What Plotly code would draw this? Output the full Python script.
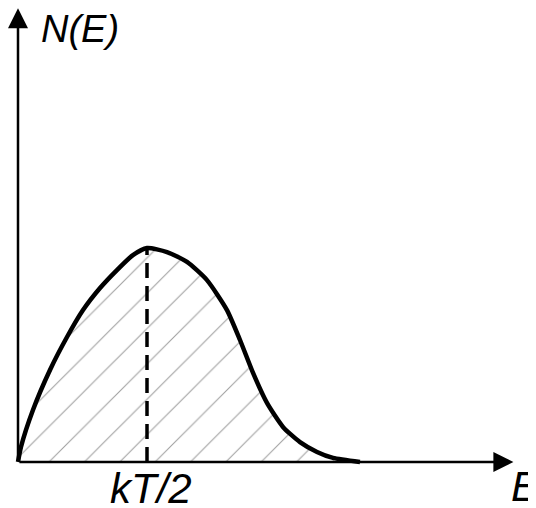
import plotly.graph_objects as go

# Energy distribution N(E) (in units: x = E / (kT/2), y = N / N_max)
energy = [0.0, 0.023, 0.116, 0.248, 0.380, 0.504, 0.636, 0.767, 0.891, 1.0,
          1.155, 1.310, 1.465, 1.620, 1.721, 1.822, 1.930, 2.054, 2.186,
          2.318, 2.442, 2.651]
density = [0.0, 0.07, 0.243, 0.430, 0.584, 0.710, 0.813, 0.897, 0.967, 1.0,
           0.981, 0.935, 0.850, 0.710, 0.570, 0.416, 0.276, 0.164, 0.093,
           0.047, 0.019, 0.0]

peak_x = 1.0
peak_y = 1.0
tick_vals = [1.0]
tick_text = ["kT/2"]
x_label = "E"
y_label = "N(E)"

x_axis_end = 3.84
y_axis_end = 2.12

font_family = "Liberation Sans, Arial, sans-serif"

fig = go.Figure()

fig.add_trace(go.Scatter(
    x=energy, y=density, mode="lines",
    line=dict(color="black", width=4.5, shape="spline", smoothing=0.6),
    fill="tozeroy",
    fillcolor="white",
    fillpattern=dict(shape="/", fgcolor="#444444", bgcolor="white",
                     size=25, solidity=0.045),
    hoverinfo="skip", showlegend=False,
))

fig.add_trace(go.Scatter(
    x=[peak_x, peak_x], y=[0, peak_y], mode="lines",
    line=dict(color="black", width=3.5, dash="15px,8px"),
    hoverinfo="skip", showlegend=False,
))

annotations = [
    # x axis arrow
    dict(x=x_axis_end, y=0, ax=0, ay=0, xref="x", yref="y", axref="x", ayref="y",
         showarrow=True, arrowhead=2, arrowwidth=2.5, arrowsize=1.6,
         arrowcolor="black", text=""),
    # y axis arrow
    dict(x=0, y=y_axis_end, ax=0, ay=0, xref="x", yref="y", axref="x", ayref="y",
         showarrow=True, arrowhead=2, arrowwidth=2.5, arrowsize=1.6,
         arrowcolor="black", text=""),
    dict(x=0.165, y=2.025, xref="x", yref="y", text=y_label, showarrow=False,
         xanchor="left", yanchor="middle",
         font=dict(family=font_family, size=38, color="black", style="italic")),
    dict(x=3.81, y=-0.115, xref="x", yref="y", text=x_label, showarrow=False,
         xanchor="left", yanchor="middle",
         font=dict(family=font_family, size=42, color="black", style="italic")),
]
for tv, tt in zip(tick_vals, tick_text):
    annotations.append(dict(x=tv + 0.03, y=-0.125, xref="x", yref="y", text=tt,
                            showarrow=False, xanchor="center", yanchor="middle",
                            font=dict(family=font_family, size=42, color="black",
                                      style="italic")))

# The page body adds an 8px margin, so the figure is 8px smaller than the window
fig.update_layout(
    width=528, height=500,
    margin=dict(l=0, r=0, t=0, b=0),
    paper_bgcolor="white", plot_bgcolor="white",
    xaxis=dict(range=[-0.0775, 4.0155], visible=False, fixedrange=True),
    yaxis=dict(range=[-0.215, 2.1215], visible=False, fixedrange=True),
    annotations=annotations,
)

fig.write_html("out.html")
